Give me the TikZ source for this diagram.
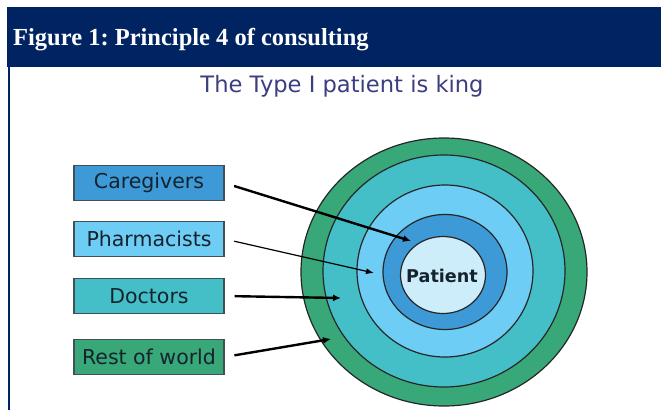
\documentclass[tikz,border=0pt]{standalone}
\usepackage{fontspec}
\setmainfont{Liberation Serif}
\newfontfamily\verd{DejaVu Sans}
\usetikzlibrary{shapes.geometric,arrows.meta}
\frenchspacing
\definecolor{navy}{RGB}{0,36,98}
\definecolor{cgblue}{RGB}{61,154,214}
\definecolor{phblue}{RGB}{109,205,245}
\definecolor{docteal}{RGB}{68,191,200}
\definecolor{rowgreen}{RGB}{56,168,120}
\definecolor{inner}{RGB}{205,237,251}
\definecolor{subcol}{RGB}{59,63,127}
\definecolor{ink}{RGB}{20,35,45}
\tikzset{
  labelbox/.style={draw=ink!80, line width=1.1pt, minimum width=150pt, minimum height=35pt, inner sep=0pt, font=\verd\fontsize{20.5}{22}\selectfont, text=ink},
  ring/.style={ellipse, draw=black!85, line width=1.2pt, inner sep=0pt},
  thickarr/.style={line width=2.4pt, -{Latex[length=8pt,width=7pt]}, shorten <=10pt},
  thinarr/.style={line width=1.2pt, -{Latex[length=8pt,width=6pt]}, shorten <=10pt}
}
\begin{document}
\begin{tikzpicture}[x=1pt,y=-1pt]
\useasboundingbox (0,0) rectangle (661,410);
\fill[white] (0,0) rectangle (661,410);
% header
\fill[navy] (7,7) rectangle (661,67);
\node[anchor=base west, inner sep=0pt, text=white, font=\bfseries\fontsize{24.5}{26}\selectfont] (title) at (13,45) {Figure 1: Principle 4 of consulting};
\draw[navy, line width=1.6pt] (9,67) -- (9,410);
% subtitle
\node[anchor=base, inner sep=0pt, text=subcol, font=\verd\fontsize{22.6}{24}\selectfont] (sub) at (342,92) {The Type I patient is king};
% rings
\node[ring, fill=rowgreen, minimum width=286pt, minimum height=268pt] (r1) at (444,272) {};
\node[ring, fill=docteal, minimum width=242pt, minimum height=232pt] (r2) at (444,271) {};
\node[ring, fill=phblue, minimum width=176pt, minimum height=172pt] (r3) at (445,271) {};
\node[ring, fill=cgblue, minimum width=124pt, minimum height=115pt] (r4) at (445,272) {};
\node[ring, fill=inner, minimum width=85pt, minimum height=77pt] (r5) at (443,275) {};
\node[inner sep=0pt, font=\verd\bfseries\fontsize{17.6}{19}\selectfont, text=ink] (pat) at (442,276) {Patient};
% boxes
\node[labelbox, fill=cgblue] (cg) at (149,183) {Caregivers};
\node[labelbox, fill=phblue] (ph) at (149,239) {Pharmacists};
\node[labelbox, fill=docteal] (dr) at (149,296) {Doctors};
\node[labelbox, fill=rowgreen] (rw) at (149,357) {Rest of world};
% targets
\coordinate (t1) at (411,241);
\coordinate (t2) at (374,273);
\coordinate (t3) at (341,298);
\coordinate (t4) at (331,339);
\draw[thickarr] (cg.east) -- (t1);
\draw[thinarr] (ph.east) -- (t2);
\draw[thickarr] (dr.east) -- (t3);
\draw[thickarr] (rw.east) -- (t4);
\end{tikzpicture}
\end{document}
